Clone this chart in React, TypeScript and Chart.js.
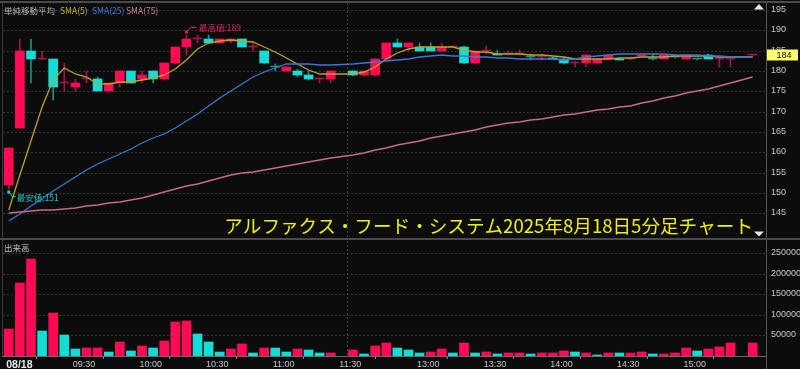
import React, { useEffect, useRef } from 'react';
import { Chart, registerables } from 'chart.js';

Chart.register(...registerables);

// ---------- data ----------
const TIMES: string[] = [
  '09:00','09:05','09:10','09:15','09:20','09:25','09:30','09:35','09:40','09:45','09:50','09:55',
  '10:00','10:05','10:10','10:15','10:20','10:25','10:30','10:35','10:40','10:45','10:50','10:55',
  '11:00','11:05','11:10','11:15','11:20','11:25','11:30',
  '12:30','12:35','12:40','12:45','12:50','12:55',
  '13:00','13:05','13:10','13:15','13:20','13:25','13:30','13:35','13:40','13:45','13:50','13:55',
  '14:00','14:05','14:10','14:15','14:20','14:25','14:30','14:35','14:40','14:45','14:50','14:55',
  '15:00','15:05','15:10','15:15','15:20','15:25','15:30',
];

const OPEN: (number | null)[] = [
  152,166,185,183,183,177,176,178,178,175,177,180,178,180,178,182,186,188,188,187,187.5,188,186,185,181,180,180,179,178,178,null,
  180,179,179,183,187,186,186,186,185,186,186,182,185,184.3,184.1,184.1,183.5,183.5,183.3,183,182,182,182,183,183.1,183,183.7,183,182.9,183.5,182.9,182.9,184,183,183,null,184,
];
const HIGH: (number | null)[] = [
  161,188,188,185,183,182,178,180,178.5,177,180,180,180,180,182,186,189,189,189,188,188,188,187,185,181.7,181,180.5,180,178.3,180,null,
  180,180,183,187,188,187,187,187,187,186.3,186.3,185,186.3,185.1,185,185.1,184.3,184.2,183.5,183.2,182.5,184,183,184.3,183.3,183.5,184.1,184.2,184,184,184,183.3,184.2,183.2,183.2,null,184,
];
const LOW: (number | null)[] = [
  151,166,177,182.8,172.8,175,175,177,175,174.8,176,177,177,177,177.9,181.8,184,187,187,187,187,186,185,181.8,180,180,178.5,177.7,177,177,null,
  178.9,178.8,178.7,182.8,186,185,185,185,185,186,181.8,181.8,184.1,183.9,183.9,183.9,182.8,182.8,182.9,181.8,181,181,181.8,182.9,182.8,182.8,183.7,182.8,182.9,183.2,182.9,182.7,182.9,181,181,null,184,
];
const CLOSE: (number | null)[] = [
  161,185,183,183,176,177,177,178,175,177,180,177,179,178,182,186,188,188,187,188,188,186,186,182,181,181,179,178,178,180,null,
  179,180,183,187,186,187,185,185,186,186,182,185,185,183.9,184.1,184.1,183.5,183.5,183.1,182,182,184,183,184,182.8,183,184,183,183.9,183.5,183.9,182.9,182.9,183,183,null,184,
];
const VOLUME: (number | null)[] = [
  65000,177000,237000,60000,105000,52000,16000,20000,20000,10500,33000,13000,23500,18600,36600,82400,84800,54600,33300,8800,17000,28400,6400,20300,18600,10500,16200,14500,6400,6400,null,
  13700,4700,25200,32500,20300,14500,6400,10500,16200,6400,32500,8000,10500,3900,6400,6400,3900,6400,6400,12900,8800,8000,3100,6400,6400,8000,10500,4700,3900,6400,18600,12900,16200,21900,30900,null,30900,
];
// 1 = red (up) volume bar, 0 = cyan (down)
const VOLUME_UP: (number | null)[] = [
  1,1,1,0,1,0,0,1,1,0,1,0,1,0,1,1,1,0,0,0,1,1,0,1,0,0,1,0,0,1,null,
  1,0,1,1,0,0,0,1,1,0,1,0,1,0,1,1,0,1,1,1,0,1,0,1,0,1,1,0,1,1,1,0,1,1,1,null,1,
];
const SMA5: (number | null)[] = [
  145.8,154.3,162.7,171.1,177.9,180.7,179.2,178.5,176.8,176.9,177.3,177.4,177.7,178.3,179.0,180.5,182.8,185.4,186.8,187.5,187.7,187.5,187.1,186.0,184.7,183.2,181.8,180.3,179.4,179.2,null,
  179.2,179.8,180.9,182.9,184.5,185.4,185.9,186.0,186.0,185.9,185.2,184.8,184.6,184.3,184.2,184.1,184.0,183.9,183.7,183.4,183.1,183.0,182.9,183.1,183.2,183.3,183.4,183.4,183.5,183.6,183.7,183.6,183.6,183.4,183.4,null,183.5,
];
const SMA25: (number | null)[] = [
  143.1,144.9,146.8,148.6,150.5,152.2,153.9,155.6,157.1,158.4,159.7,160.9,162.2,163.5,164.6,166.0,167.6,169.4,171.4,173.3,175.1,176.9,178.6,179.8,180.8,181.8,181.8,181.7,181.6,181.6,null,
  181.8,182.1,182.3,182.5,182.7,183.1,183.4,183.7,183.9,183.8,183.6,183.5,183.4,183.3,183.2,183.1,183.1,183.0,182.9,182.8,183.0,183.4,183.6,183.9,184.1,184.3,184.3,184.2,184.1,184.0,184.0,183.9,183.8,183.7,183.5,null,183.5,
];
const SMA75: (number | null)[] = [
  145.1,145.3,145.5,145.7,145.9,146.1,146.4,146.7,147.0,147.4,147.8,148.2,148.8,149.5,150.2,150.9,151.6,152.3,153.0,153.7,154.4,154.8,155.2,155.7,156.1,156.6,157.1,157.6,158.1,158.6,null,
  159.4,159.9,160.5,161.1,161.7,162.3,162.9,163.5,164.0,164.6,165.1,165.6,166.2,166.7,167.1,167.5,167.9,168.3,168.7,169.1,169.5,169.9,170.3,170.7,171.1,171.5,172.1,172.7,173.3,173.9,174.5,175.1,175.7,176.4,177.1,null,178.5,
];

const TICK_TIMES: string[] = ['09:00','09:30','10:00','10:30','11:00','11:30','13:00','13:30','14:00','14:30','15:00'];
const TICK_LABELS: string[] = ['08/18','09:30','10:00','10:30','11:00','11:30','13:00','13:30','14:00','14:30','15:00'];
const PRICE_TICKS: number[] = [145,150,155,160,165,170,175,180,185,190,195];
const VOLUME_TICKS: number[] = [50000,100000,150000,200000,250000];
const PRICE_MIN = 138.9;
const PRICE_MAX = 196.77;
const VOLUME_MAX = 280000;
const SESSION_RESUME = '12:30';

const TITLE = 'アルファクス・フード・システム2025年8月18日5分足チャート';
const LEGEND_HEAD = '単純移動平均';
const VOLUME_TITLE = '出来高';

// ---------- style ----------
const RED = '#ff0a55';
const CYAN = '#14ddd5';
const RED_W = '#a0164c';
const CYAN_W = '#1b8f88';
const GRID = '#363636';
const AXIS_TXT = '#c8c8c8';
const LATIN = '"Liberation Sans", Arial, sans-serif';
const CJK = '"Noto Sans CJK JP", sans-serif';
const X_MIN = -0.52;
const X_MAX = 68.2;

const tickPositions = TICK_TIMES.map((t) => TIMES.indexOf(t) - 0.5);
const sessionBreak = TIMES.indexOf(SESSION_RESUME) - 0.5;

function buildCandles() {
  const body: any[] = [];
  const wick: any[] = [];
  const bodyColors: string[] = [];
  const wickColors: string[] = [];
  let prev: number | null = null;
  for (let i = 0; i < TIMES.length; i++) {
    const o = OPEN[i], c = CLOSE[i], h = HIGH[i], l = LOW[i];
    if (o == null || c == null || h == null || l == null) continue;
    let bc: string, wc: string;
    if (c > o) { bc = RED; wc = RED_W; }
    else if (c < o) { bc = CYAN; wc = CYAN_W; }
    else {
      const up = prev == null || c >= prev;
      bc = up ? RED_W : CYAN_W; wc = bc;
    }
    body.push({ x: i, y: [o, c] });
    wick.push({ x: i, y: [l, h] });
    bodyColors.push(bc);
    wickColors.push(wc);
    prev = c;
  }
  return { body, wick, bodyColors, wickColors };
}

function seriesPoints(arr: (number | null)[]) {
  const pts: any[] = [];
  arr.forEach((v, i) => { if (v != null) pts.push({ x: i, y: v }); });
  return pts;
}

function noPad(s: any) {
  s.paddingTop = 0; s.paddingBottom = 0; s.paddingLeft = 0; s.paddingRight = 0;
}

function drawSessionLine(chart: any) {
  const { ctx, chartArea, scales } = chart;
  const sx = Math.round(scales.x.getPixelForValue(sessionBreak)) + 0.5;
  ctx.save();
  ctx.strokeStyle = '#454545';
  ctx.lineWidth = 1;
  ctx.setLineDash([2, 2]);
  ctx.beginPath();
  ctx.moveTo(sx, chartArea.top);
  ctx.lineTo(sx, chartArea.bottom);
  ctx.stroke();
  ctx.restore();
}

const pricePlugin = {
  id: 'priceDecor',
  beforeDatasetsDraw(chart: any) { drawSessionLine(chart); },
  afterDraw(chart: any) {
    const { ctx, chartArea, scales } = chart;
    const xs = scales.x, ys = scales.y;
    const W = chart.width;
    ctx.save();
    // frames
    ctx.fillStyle = '#4a4a4a';
    ctx.fillRect(0, 1, W, 2);
    ctx.fillRect(0, 238, W, 2);
    ctx.fillStyle = '#3c3c3c';
    ctx.fillRect(2, 3, 1, 235);
    ctx.fillStyle = '#5a5a5a';
    ctx.fillRect(Math.round(chartArea.right), 3, 1, 235);

    // legend
    ctx.textBaseline = 'middle';
    ctx.textAlign = 'left';
    ctx.font = '8.5px ' + CJK;
    ctx.fillStyle = '#b4b4b4';
    ctx.fillText(LEGEND_HEAD, 4, 11);
    const legendItems: [string, string, number][] = [
      ['SMA(5)', '#c8b030', 60],
      ['SMA(25)', '#3f7fd8', 92],
      ['SMA(75)', '#d27aa0', 126],
    ];
    legendItems.forEach(([t, c, x]) => { ctx.fillStyle = c; ctx.fillText(t, x, 11); });

    // highest marker
    let hi = -Infinity, hiIdx = 0, lo = Infinity, loIdx = 0;
    HIGH.forEach((v, i) => { if (v != null && v > hi) { hi = v; hiIdx = i; } });
    LOW.forEach((v, i) => { if (v != null && v < lo) { lo = v; loIdx = i; } });
    const hx = xs.getPixelForValue(hiIdx), hy = ys.getPixelForValue(hi);
    ctx.strokeStyle = '#e0245e';
    ctx.fillStyle = '#e0245e';
    ctx.lineWidth = 1;
    ctx.fillRect(hx - 1.5, hy - 4.5, 3, 3);
    ctx.beginPath();
    ctx.moveTo(hx + 1, hy - 4);
    ctx.lineTo(hx + 4, hy - 7.5);
    ctx.lineTo(hx + 10, hy - 7.5);
    ctx.stroke();
    ctx.font = '8.5px ' + CJK;
    ctx.fillText('最高値:' + hi, hx + 12.5, hy - 7);

    // lowest marker
    const lx = xs.getPixelForValue(loIdx), ly = ys.getPixelForValue(lo);
    ctx.strokeStyle = '#1ec8c0';
    ctx.fillStyle = '#1ec8c0';
    ctx.fillRect(lx - 1.5, ly + 1.5, 3, 3);
    ctx.beginPath();
    ctx.moveTo(lx + 1, ly + 4);
    ctx.lineTo(lx + 3.5, ly + 7.5);
    ctx.lineTo(lx + 7, ly + 7.5);
    ctx.stroke();
    ctx.fillText('最安値:' + lo, lx + 8, ly + 8.5);

    // title
    ctx.font = '18.6px ' + CJK;
    ctx.fillStyle = '#f2f200';
    ctx.textAlign = 'right';
    ctx.textBaseline = 'alphabetic';
    ctx.fillText(TITLE, 753, 233);

    // last price tag
    let last = 0;
    CLOSE.forEach((v) => { if (v != null) last = v; });
    const py = ys.getPixelForValue(last);
    const ax = Math.round(chartArea.right) + 1;
    ctx.fillStyle = '#fbfb72';
    ctx.fillRect(ax, py - 5.5, W - 2 - ax, 11);
    ctx.fillStyle = '#101010';
    ctx.font = '9px ' + LATIN;
    ctx.textAlign = 'center';
    ctx.textBaseline = 'middle';
    ctx.fillText(String(last), 784, py + 0.5);

    // scroll triangles
    ctx.fillStyle = '#e6e6e6';
    ctx.beginPath();
    ctx.moveTo(754, 9.5); ctx.lineTo(764, 9.5); ctx.lineTo(759, 4); ctx.closePath(); ctx.fill();
    ctx.beginPath();
    ctx.moveTo(754, 231.5); ctx.lineTo(764, 231.5); ctx.lineTo(759, 236.5); ctx.closePath(); ctx.fill();
    ctx.restore();
  },
};

const volumePlugin = {
  id: 'volumeDecor',
  beforeDatasetsDraw(chart: any) { drawSessionLine(chart); },
  afterDraw(chart: any) {
    const { ctx, chartArea } = chart;
    const H = chart.height;
    ctx.save();
    ctx.fillStyle = '#3c3c3c';
    ctx.fillRect(2, 0, 1, chartArea.bottom);
    ctx.fillStyle = '#5a5a5a';
    ctx.fillRect(Math.round(chartArea.right), 0, 1, H);
    ctx.fillStyle = '#6a6a6a';
    ctx.fillRect(2, Math.round(chartArea.bottom), Math.round(chartArea.right) - 2, 1);
    ctx.font = '8.5px ' + CJK;
    ctx.fillStyle = '#c0c0c0';
    ctx.textBaseline = 'middle';
    ctx.textAlign = 'left';
    ctx.fillText(VOLUME_TITLE, 4, 8);
    ctx.restore();
  },
};

export default function App() {
  const priceRef = useRef<HTMLCanvasElement>(null);
  const volRef = useRef<HTMLCanvasElement>(null);

  useEffect(() => {
    const cd = buildCandles();
    const price = new Chart(priceRef.current as HTMLCanvasElement, {
      type: 'bar',
      data: {
        datasets: [
          { type: 'line', data: seriesPoints(SMA75), borderColor: '#c86a8e', borderWidth: 1.3, pointRadius: 0, order: 0 } as any,
          { type: 'line', data: seriesPoints(SMA25), borderColor: '#3a78d2', borderWidth: 1.3, pointRadius: 0, order: 0 } as any,
          { type: 'line', data: seriesPoints(SMA5), borderColor: '#b8a428', borderWidth: 1.3, pointRadius: 0, order: 0 } as any,
          { data: cd.body, backgroundColor: cd.bodyColors, barThickness: 9, minBarLength: 1, grouped: false, borderWidth: 0, order: 1 } as any,
          { data: cd.wick, backgroundColor: cd.wickColors, barThickness: 1, grouped: false, borderWidth: 0, order: 2 } as any,
        ],
      },
      options: {
        animation: false,
        responsive: false,
        maintainAspectRatio: false,
        events: [],
        layout: { padding: { left: 3, top: 3, right: 0, bottom: 2 } },
        plugins: { legend: { display: false }, tooltip: { enabled: false } },
        scales: {
          x: { type: 'linear', min: X_MIN, max: X_MAX, display: false, offset: false },
          y: {
            type: 'linear',
            position: 'right',
            min: PRICE_MIN,
            max: PRICE_MAX,
            alignToPixels: true,
            afterBuildTicks: (s: any) => { s.ticks = PRICE_TICKS.map((v) => ({ value: v })); },
            afterFit: (s: any) => { s.width = 34; noPad(s); },
            grid: { color: GRID, drawTicks: false, lineWidth: 1 },
            border: { display: false, dash: [2, 2] },
            ticks: { color: AXIS_TXT, font: { family: LATIN, size: 9 }, padding: 5 },
          },
        },
      } as any,
      plugins: [pricePlugin],
    });

    const volData: any[] = [];
    const volColors: string[] = [];
    VOLUME.forEach((v, i) => {
      if (v == null) return;
      volData.push({ x: i, y: v });
      volColors.push(VOLUME_UP[i] ? RED : CYAN);
    });

    const volume = new Chart(volRef.current as HTMLCanvasElement, {
      type: 'bar',
      data: {
        datasets: [
          { data: volData, backgroundColor: volColors, barThickness: 9, grouped: false, borderWidth: 0 } as any,
        ],
      },
      options: {
        animation: false,
        responsive: false,
        maintainAspectRatio: false,
        events: [],
        layout: { padding: { left: 3, top: 1, right: 0, bottom: 0 } },
        plugins: { legend: { display: false }, tooltip: { enabled: false } },
        scales: {
          x: {
            type: 'linear',
            min: X_MIN,
            max: X_MAX,
            offset: false,
            afterBuildTicks: (s: any) => { s.ticks = tickPositions.map((v) => ({ value: v })); },
            afterFit: (s: any) => { s.height = 13; noPad(s); },
            grid: { drawOnChartArea: false, drawTicks: true, tickLength: 3, tickColor: '#8a8a8a', color: 'rgba(0,0,0,0)' },
            border: { display: false },
            ticks: {
              autoSkip: false,
              maxRotation: 0,
              minRotation: 0,
              align: 'start',
              labelOffset: 3,
              padding: 0,
              color: (c: any) => (c.index === 0 ? '#e8e8e8' : AXIS_TXT),
              font: (c: any) => (c.index === 0
                ? { family: LATIN, size: 10.5, weight: 'bold' }
                : { family: LATIN, size: 9 }),
              callback: (_v: any, i: number) => TICK_LABELS[i],
            },
          },
          y: {
            type: 'linear',
            position: 'right',
            min: 0,
            max: VOLUME_MAX,
            alignToPixels: true,
            afterBuildTicks: (s: any) => { s.ticks = VOLUME_TICKS.map((v) => ({ value: v })); },
            afterFit: (s: any) => { s.width = 34; noPad(s); },
            grid: { color: GRID, drawTicks: false, lineWidth: 1 },
            border: { display: false, dash: [2, 2] },
            ticks: { color: AXIS_TXT, font: { family: LATIN, size: 9 }, padding: 5, callback: (v: any) => String(v) },
          },
        },
      } as any,
      plugins: [volumePlugin],
    });

    return () => { price.destroy(); volume.destroy(); };
  }, []);

  return (
    <div style={{ position: 'absolute', left: 0, top: 0, width: 800, height: 369, background: '#0c0c0c', overflow: 'hidden' }}>
      <canvas ref={priceRef} width={800} height={240} style={{ position: 'absolute', left: 0, top: 0, width: 800, height: 240, display: 'block' }} />
      <canvas ref={volRef} width={800} height={129} style={{ position: 'absolute', left: 0, top: 240, width: 800, height: 129, display: 'block' }} />
    </div>
  );
}
